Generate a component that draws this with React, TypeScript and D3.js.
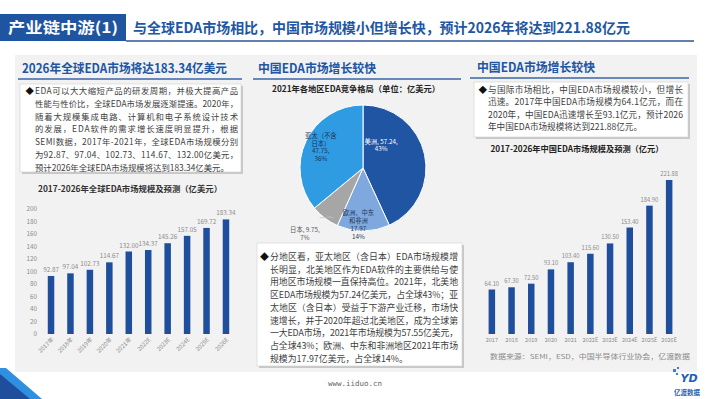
import React from 'react'
import * as d3 from 'd3'

// ---- data ----
const globalYears = ['2017年', '2018年', '2019年', '2020年', '2021年', '2022E', '2023E', '2024E', '2025E', '2026E']
const globalValues = [92.87, 97.04, 102.73, 114.67, 132.0, 134.37, 145.26, 157.05, 169.72, 183.34]
const globalTicks = [0, 20, 40, 60, 80, 100, 120, 140, 160, 180, 200]

const chinaYears = ['2017', '2018', '2019', '2020', '2021', '2022E', '2023E', '2024E', '2025E', '2026E']
const chinaValues = [64.1, 67.3, 72.5, 93.1, 103.4, 115.6, 130.5, 153.4, 184.9, 221.88]

const regionNames = [['美洲,'], ['欧洲、中东', '和非洲'], ['日本,'], ['亚太（不含', '日本）']]
const regionValues = [57.24, 17.97, 9.75, 47.75]
const regionShares = ['43%', '14%', '7%', '36%']

const leftText = [
  'EDA可以大大缩短产品的研发周期，并极大提高产品',
  '性能与性价比，全球EDA市场发展逐渐提速。2020年，',
  '随着大规模集成电路、计算机和电子系统设计技术',
  '的发展，EDA软件的需求增长速度明显提升，根据',
  'SEMI数据，2017年-2021年，全球EDA市场规模分别',
  '为92.87、97.04、102.73、114.67、132.00亿美元，',
  '预计2026年全球EDA市场规模将达到183.34亿美元。',
]
const midText = [
  '分地区看，亚太地区（含日本）EDA市场规模增',
  '长明显，北美地区作为EDA软件的主要供给与使',
  '用地区市场规模一直保持高位。2021年，北美地',
  '区EDA市场规模为57.24亿美元，占全球43%；亚',
  '太地区（含日本）受益于下游产业迁移，市场快',
  '速增长，并于2020年超过北美地区，成为全球第',
  '一大EDA市场，2021年市场规模为57.55亿美元，',
  '占全球43%；欧洲、中东和非洲地区2021年市场',
  '规模为17.97亿美元，占全球14%。',
]
const rightText = [
  '与国际市场相比，中国EDA市场规模较小，但增长',
  '迅速。2017年中国EDA市场规模为64.1亿元，而在',
  '2020年，中国EDA迅速增长至93.1亿元，预计2026',
  '年中国EDA市场规模将达到221.88亿元。',
]

const FONT = '"Noto Sans CJK SC", "Noto Sans", sans-serif'
const BLUE = '#1f4f9c'
const TITLE_BLUE = '#2156a3'
const TEXT = '#404040'
const pieColors = ['#1f55a3', '#7fa9de', '#a6a6a6', '#2e9be3']
const pieTextColors = ['#ffffff', '#1d3557', '#595959', '#1d3557']
// label placement: angle shift (deg) from slice middle, radius
const pieLabelPlace = [[-39, 29], [5, 57], [4, 88], [1, 47]]

function Paragraph({ lines, x, y, width, step, size }: any) {
  return (
    <g fontFamily={FONT} fontSize={size} fill={TEXT}>
      <text x={x - size - 1} y={y} fontSize={size} fill="#111">◆</text>
      {lines.map((l: string, i: number) => (
        <text key={i} x={x} y={y + i * step}
          {...(i < lines.length - 1 ? { textLength: width, lengthAdjust: 'spacing' } : {})}>{l}</text>
      ))}
    </g>
  )
}

function Box({ x, y, w, h }: any) {
  return (
    <g>
      <rect x={x + 2} y={y + 2} width={w} height={h} fill="#c8c8c8" />
      <rect x={x} y={y} width={w} height={h} fill="#ffffff" stroke="#d0d0d0" strokeWidth={0.6} />
    </g>
  )
}

function SectionHead({ x, y, x1, x2, text, len }: any) {
  return (
    <g>
      <text x={x} y={y} fontFamily={FONT} fontSize={12.5} fontWeight="bold" fill={TITLE_BLUE}
        textLength={len} lengthAdjust="spacingAndGlyphs">{text}</text>
      <line x1={x1} x2={x2} y1={y + 6} y2={y + 6} stroke="#3a64a8" strokeWidth={1.4} />
    </g>
  )
}

export default function App() {
  // left chart
  const xL = d3.scalePoint<string>().domain(globalYears).range([41.3, 235.7]).padding(0.5)
  const yL = d3.scaleLinear().domain([0, 200]).range([334, 209])
  // right chart
  const xR = d3.scalePoint<string>().domain(chinaYears).range([482, 679]).padding(0.5)
  const yR = d3.scaleLinear().domain([0, 221.88]).range([334, 180])

  // pie
  const cx = 363, cy = 168, r = 63
  const pie = d3.pie<number>().sort(null).value(d => d)
  const slices = pie(regionValues)
  const arc = d3.arc<d3.PieArcDatum<number>>().innerRadius(0).outerRadius(r)
  const polar = (a: number, rad: number) => [Math.sin(a) * rad, -Math.cos(a) * rad]

  const barW = 6.5

  return (
    <svg width={710} height={399} style={{ position: 'absolute', left: 0, top: 0, background: '#fff' }}>
      {/* header */}
      <rect x={0} y={14} width={126} height={27} fill="#1f55a0" />
      <text x={8} y={33} fontFamily={FONT} fontSize={15} fontWeight="bold" fill="#fff"
        textLength={110} lengthAdjust="spacingAndGlyphs">产业链中游(1)</text>
      <text x={133} y={33} fontFamily={FONT} fontSize={14} fontWeight="bold" fill={TITLE_BLUE}
        textLength={497} lengthAdjust="spacingAndGlyphs">与全球EDA市场相比，中国市场规模小但增长快，预计2026年将达到221.88亿元</text>
      <line x1={126} x2={694} y1={41} y2={41} stroke="#2f5597" strokeWidth={1.5} />

      {/* panel background */}
      <rect x={15} y={55} width={682} height={317} fill="#f2f2f2" />

      {/* left column */}
      <SectionHead x={22} y={73} x1={18} x2={242} text="2026年全球EDA市场将达183.34亿美元" len={205} />
      <Box x={20} y={84} w={221} h={88} />
      <Paragraph lines={leftText} x={35} y={94} width={203} step={12.8} size={8.4} />

      <text x={130} y={192} textAnchor="middle" fontFamily={FONT} fontSize={8.2} fontWeight="bold" fill="#333"
        textLength={184} lengthAdjust="spacingAndGlyphs">2017-2026年全球EDA市场规模及预测（亿美元）</text>
      <g fontFamily={FONT} fontSize={6.3} fill="#8c8c8c">
        {globalTicks.map(t => (
          <text key={t} x={37} y={yL(t) + 2} textAnchor="end">{t}</text>
        ))}
      </g>
      {globalValues.map((v, i) => {
        const x = xL(globalYears[i])!
        return (
          <g key={i}>
            <rect x={x - barW / 2} y={yL(v)} width={barW} height={yL(0) - yL(v)} fill={BLUE} />
            <text x={x} y={yL(v) - 4} textAnchor="middle" fontFamily={FONT} fontSize={6.3} fill="#8c8c8c">{v.toFixed(2)}</text>
            <text transform={`translate(${x + 3},${340}) rotate(-45)`} textAnchor="end" fontFamily={FONT}
              fontSize={5.8} fill="#8c8c8c">{globalYears[i]}</text>
          </g>
        )
      })}

      {/* middle column */}
      <SectionHead x={258} y={73} x1={253} x2={461} text="中国EDA市场增长较快" len={118} />
      <text x={356} y={92} textAnchor="middle" fontFamily={FONT} fontSize={8.2} fontWeight="bold" fill="#222"
        textLength={168} lengthAdjust="spacingAndGlyphs">2021年各地区EDA竞争格局（单位：亿美元）</text>
      <g transform={`translate(${cx},${cy})`}>
        {slices.map((s, i) => (
          <path key={i} d={arc(s)!} fill={pieColors[i]} stroke="#fff" strokeWidth={1} />
        ))}
        {(() => {
          const s = slices[2]
          const mid = (s.startAngle + s.endAngle) / 2
          const [px, py] = polar(mid, r - 3)
          const [lx, ly] = polar(mid + (pieLabelPlace[2][0] * Math.PI) / 180, pieLabelPlace[2][1] - 22)
          return <polyline points={`${px},${py} ${lx + 14},${ly} ${lx},${ly}`} fill="none" stroke="#bfbfbf" strokeWidth={0.6} />
        })()}
        {slices.map((s, i) => {
          const mid = (s.startAngle + s.endAngle) / 2 + (pieLabelPlace[i][0] * Math.PI) / 180
          const [lx, ly] = polar(mid, pieLabelPlace[i][1])
          const lines = [...regionNames[i]]
          if (i === 0 || i === 2) lines[lines.length - 1] += ` ${regionValues[i].toFixed(2)},`
          else lines.push(regionValues[i].toFixed(2) + (i === 3 ? ',' : ''))
          lines.push(regionShares[i])
          const step = 7.8
          const y0 = ly - ((lines.length - 1) * step) / 2 + 2.2
          return (
            <g key={i} fontFamily={FONT} fontSize={6.3} fill={pieTextColors[i]} textAnchor="middle">
              {lines.map((l, j) => (
                <text key={j} x={lx} y={y0 + j * step}>{l}</text>
              ))}
            </g>
          )
        })}
      </g>
      <Box x={257} y={243} w={205} h={123} />
      <Paragraph lines={midText} x={270} y={260} width={188} step={12.7} size={8.9} />

      {/* right column */}
      <SectionHead x={477} y={72} x1={470} x2={689} text="中国EDA市场增长较快" len={118} />
      <Box x={474} y={82} w={214} h={55} />
      <Paragraph lines={rightText} x={488} y={93} width={195} step={12.3} size={8.6} />

      <text x={577} y={152} textAnchor="middle" fontFamily={FONT} fontSize={8.2} fontWeight="bold" fill="#222"
        textLength={173} lengthAdjust="spacingAndGlyphs">2017-2026年中国EDA市场规模及预测（亿元）</text>
      {chinaValues.map((v, i) => {
        const x = xR(chinaYears[i])!
        return (
          <g key={i}>
            <rect x={x - barW / 2} y={yR(v)} width={barW} height={yR(0) - yR(v)} fill={BLUE} />
            <text x={x} y={yR(v) - 4} textAnchor="middle" fontFamily={FONT} fontSize={5.8} fill="#8c8c8c">{v.toFixed(2)}</text>
            <text x={x} y={342} textAnchor="middle" fontFamily={FONT} fontSize={5.6} fill="#8c8c8c">{chinaYears[i]}</text>
          </g>
        )
      })}
      <text x={490} y={359} fontFamily={FONT} fontSize={6.6} fill="#8c8c8c"
        textLength={200} lengthAdjust="spacingAndGlyphs">数据来源：SEMI，ESD，中国半导体行业协会，亿渡数据</text>

      {/* footer */}
      <text x={355} y={386} textAnchor="middle" fontFamily="DejaVu Sans Mono, monospace" fontSize={7.5} fill="#666">www.iiduo.cn</text>
      <polygon points="0,368 6,368 42,399 0,399" fill="#2f8fe0" />
      <polygon points="0,374 30,399 0,399" fill="#1f4f9c" />
      <g>
        <rect x={673} y={369} width={3} height={3} fill="#3a7fd0" />
        <rect x={677} y={367} width={2} height={2} fill="#3a7fd0" />
        <rect x={676} y={373} width={2} height={2} fill="#3a7fd0" />
        <text x={689} y={382} textAnchor="middle" fontFamily="DejaVu Sans, sans-serif" fontSize={11}
          fontWeight="bold" fontStyle="italic" fill="#1f5fb5">YD</text>
        <text x={687} y={395} textAnchor="middle" fontFamily={FONT} fontSize={6.5} fontWeight="bold" fill="#1f5fb5">亿渡数据</text>
      </g>
    </svg>
  )
}
